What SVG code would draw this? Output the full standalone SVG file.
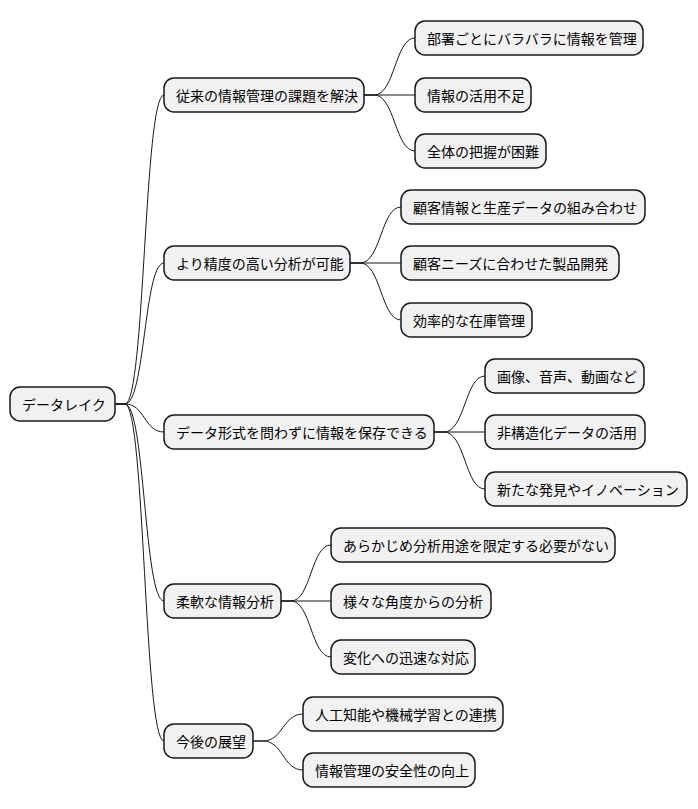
<svg xmlns="http://www.w3.org/2000/svg" width="698" height="809" viewBox="0 0 698 809">
<style>
.n rect{fill:#F1F1F1;stroke:#181818;stroke-width:1.5}
.n text{font-family:"Noto Sans CJK JP","Noto Sans",sans-serif;font-size:14px;fill:#000;dominant-baseline:central}
.c path{fill:none;stroke:#181818;stroke-width:1}
</style>
<rect width="698" height="809" fill="#fff"/>
<g class="c">
<path d="M115,404 L125,404 C145,404 144,95 164,95"/>
<path d="M115,404 L125,404 C145,404 144,263 164,263"/>
<path d="M115,404 L125,404 C145,404 144,432 164,432"/>
<path d="M115,404 L125,404 C145,404 144,601 164,601"/>
<path d="M115,404 L125,404 C145,404 144,741 164,741"/>
<path d="M364,95 L374,95 C395,95 395,38 415,38"/>
<path d="M364,95 L415,95"/>
<path d="M364,95 L374,95 C395,95 395,151 415,151"/>
<path d="M350,263 L360,263 C381,263 381,207 401,207"/>
<path d="M350,263 L401,263"/>
<path d="M350,263 L360,263 C381,263 381,320 401,320"/>
<path d="M434,432 L444,432 C465,432 465,376 485,376"/>
<path d="M434,432 L485,432"/>
<path d="M434,432 L444,432 C465,432 465,489 485,489"/>
<path d="M281,601 L291,601 C311,601 311,545 331,545"/>
<path d="M281,601 L331,601"/>
<path d="M281,601 L291,601 C311,601 311,657 331,657"/>
<path d="M253,741 L263,741 C283,741 283,714 303,714"/>
<path d="M253,741 L263,741 C283,741 283,770 303,770"/>
</g>
<g id="root" class="n"><rect x="10" y="387" width="105" height="34" rx="10"/><text x="22" y="404">データレイク</text></g>
<g id="n1" class="n"><rect x="164" y="78" width="200" height="34" rx="10"/><text x="176" y="95">従来の情報管理の課題を解決</text></g>
<g id="n2" class="n"><rect x="164" y="246" width="186" height="34" rx="10"/><text x="176" y="263">より精度の高い分析が可能</text></g>
<g id="n3" class="n"><rect x="164" y="415" width="270" height="34" rx="10"/><text x="176" y="432">データ形式を問わずに情報を保存できる</text></g>
<g id="n4" class="n"><rect x="164" y="584" width="117" height="34" rx="10"/><text x="176" y="601">柔軟な情報分析</text></g>
<g id="n5" class="n"><rect x="164" y="724" width="89" height="34" rx="10"/><text x="176" y="741">今後の展望</text></g>
<g id="n1a" class="n"><rect x="415" y="21" width="228" height="34" rx="10"/><text x="427" y="38">部署ごとにバラバラに情報を管理</text></g>
<g id="n1b" class="n"><rect x="415" y="78" width="116" height="34" rx="10"/><text x="427" y="95">情報の活用不足</text></g>
<g id="n1c" class="n"><rect x="415" y="134" width="131" height="34" rx="10"/><text x="427" y="151">全体の把握が困難</text></g>
<g id="n2a" class="n"><rect x="401" y="190" width="244" height="34" rx="10"/><text x="413" y="207">顧客情報と生産データの組み合わせ</text></g>
<g id="n2b" class="n"><rect x="401" y="246" width="218" height="34" rx="10"/><text x="413" y="263">顧客ニーズに合わせた製品開発</text></g>
<g id="n2c" class="n"><rect x="401" y="303" width="131" height="34" rx="10"/><text x="413" y="320">効率的な在庫管理</text></g>
<g id="n3a" class="n"><rect x="485" y="359" width="159" height="34" rx="10"/><text x="497" y="376">画像、音声、動画など</text></g>
<g id="n3b" class="n"><rect x="485" y="415" width="160" height="34" rx="10"/><text x="497" y="432">非構造化データの活用</text></g>
<g id="n3c" class="n"><rect x="485" y="472" width="202" height="34" rx="10"/><text x="497" y="489">新たな発見やイノベーション</text></g>
<g id="n4a" class="n"><rect x="331" y="528" width="284" height="34" rx="10"/><text x="343" y="545">あらかじめ分析用途を限定する必要がない</text></g>
<g id="n4b" class="n"><rect x="331" y="584" width="160" height="34" rx="10"/><text x="343" y="601">様々な角度からの分析</text></g>
<g id="n4c" class="n"><rect x="331" y="640" width="144" height="34" rx="10"/><text x="343" y="657">変化への迅速な対応</text></g>
<g id="n5a" class="n"><rect x="303" y="697" width="200" height="34" rx="10"/><text x="315" y="714">人工知能や機械学習との連携</text></g>
<g id="n5b" class="n"><rect x="303" y="753" width="172" height="34" rx="10"/><text x="315" y="770">情報管理の安全性の向上</text></g>
</svg>
